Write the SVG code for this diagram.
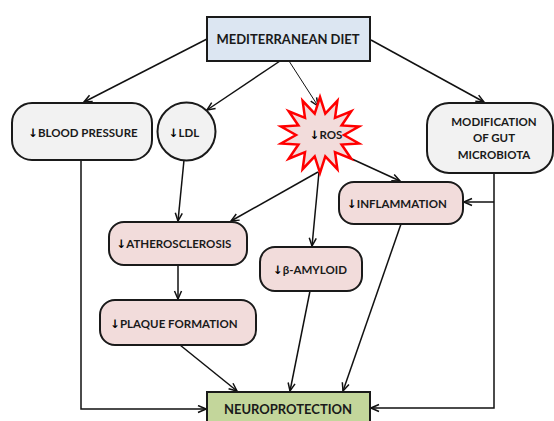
<svg xmlns="http://www.w3.org/2000/svg" width="554" height="421" viewBox="0 0 554 421">
<style>
.node{stroke:#1a1a1a;stroke-width:2}
.pink{fill:#f2dcdb}
.gray{fill:#f2f2f2}
.blue{fill:#dce6f2}
.green{fill:#c3d69b}
.t{font-family:Lato,"Liberation Sans",sans-serif;font-weight:bold;font-size:11.5px;fill:#1a1a1a;text-anchor:middle}
.big{font-size:13px}
.ar{font-family:"DejaVu Sans",sans-serif;font-weight:bold;fill:#000}
.c{fill:none;stroke:#111;stroke-width:1.5;marker-end:url(#ah)}
.thin{stroke-width:1}
</style>
<defs>
<marker id="ah" markerUnits="userSpaceOnUse" markerWidth="10" markerHeight="10" refX="9" refY="4.5" orient="auto">
<path d="M1,1 L9,4.5 L1,8" fill="none" stroke="#111" stroke-width="1.5"/>
</marker>
</defs>
<rect width="554" height="421" fill="#fff"/>
<g id="connectors">
<line class="c" x1="207" y1="39" x2="84" y2="102"/>
<line class="c" x1="280" y1="61" x2="207" y2="110"/>
<line class="c thin" x1="289" y1="61" x2="318" y2="106"/>
<line class="c" x1="371" y1="40" x2="484" y2="102"/>
<polyline class="c" points="81,160 81,409 206,409"/>
<line class="c" x1="184" y1="160" x2="178" y2="221"/>
<line class="c" x1="318" y1="172" x2="231" y2="221"/>
<line class="c" x1="319" y1="172" x2="312" y2="246"/>
<line class="c" x1="352" y1="159" x2="400" y2="181"/>
<polyline class="c" points="494,173 494,408 371,408"/>
<line class="c" x1="494" y1="202" x2="464" y2="202"/>
<line class="c" x1="178" y1="265" x2="178" y2="299"/>
<line class="c" x1="180" y1="345" x2="237" y2="391"/>
<line class="c" x1="310" y1="291" x2="290" y2="391"/>
<line class="c" x1="401" y1="224" x2="343" y2="391"/>
</g>
<g id="med-diet">
<rect class="node blue" x="207" y="17" width="163" height="44"/>
<text class="t big" x="288" y="44">MEDITERRANEAN DIET</text>
</g>
<g id="blood-pressure">
<rect class="node gray" x="12" y="103" width="140" height="57" rx="20"/>
<text class="t" x="83" y="137"><tspan class="ar">↓</tspan>BLOOD PRESSURE</text>
</g>
<g id="ldl">
<circle class="node gray" cx="186.5" cy="131.5" r="29"/>
<text class="t" x="184" y="137"><tspan class="ar">↓</tspan>LDL</text>
</g>
<g id="ros">
<polygon points="320,97 325.3,113.6 337.4,100.8 335,117.8 351.3,111.3 341.6,125.5 359,126.5 344,135 359,143.5 341.6,144.5 351.3,158.7 335,152.2 337.4,169.2 325.3,156.4 320,173 314.7,156.4 302.6,169.2 305,152.2 288.7,158.7 298.4,144.5 281,143.5 296,135 281,126.5 298.4,125.5 288.7,111.3 305,117.8 302.6,100.8 314.7,113.6" fill="#f2dcdb" stroke="#ff0000" stroke-width="2.5" stroke-linejoin="miter"/>
<text class="t" x="326" y="139"><tspan class="ar">↓</tspan>ROS</text>
</g>
<g id="gut">
<rect class="node gray" x="427" y="103" width="126" height="70" rx="22"/>
<text class="t" x="494" y="126">MODIFICATION</text>
<text class="t" x="494" y="142">OF GUT</text>
<text class="t" x="494" y="159">MICROBIOTA</text>
</g>
<g id="inflammation">
<rect class="node pink" x="339" y="182" width="124" height="42" rx="15"/>
<text class="t" x="397" y="208"><tspan class="ar">↓</tspan>INFLAMMATION</text>
</g>
<g id="atherosclerosis">
<rect class="node pink" x="109" y="222" width="138" height="43" rx="15"/>
<text class="t" x="174" y="248"><tspan class="ar">↓</tspan>ATHEROSCLEROSIS</text>
</g>
<g id="amyloid">
<rect class="node pink" x="260" y="247" width="102" height="44" rx="15"/>
<text class="t" x="310" y="274"><tspan class="ar">↓</tspan>β-AMYLOID</text>
</g>
<g id="plaque">
<rect class="node pink" x="100" y="300" width="156" height="45" rx="15"/>
<text class="t" x="174" y="328"><tspan class="ar">↓</tspan>PLAQUE FORMATION</text>
</g>
<g id="neuro">
<rect class="node green" x="207" y="392" width="163" height="40"/>
<text class="t big" x="288" y="414">NEUROPROTECTION</text>
</g>
</svg>
